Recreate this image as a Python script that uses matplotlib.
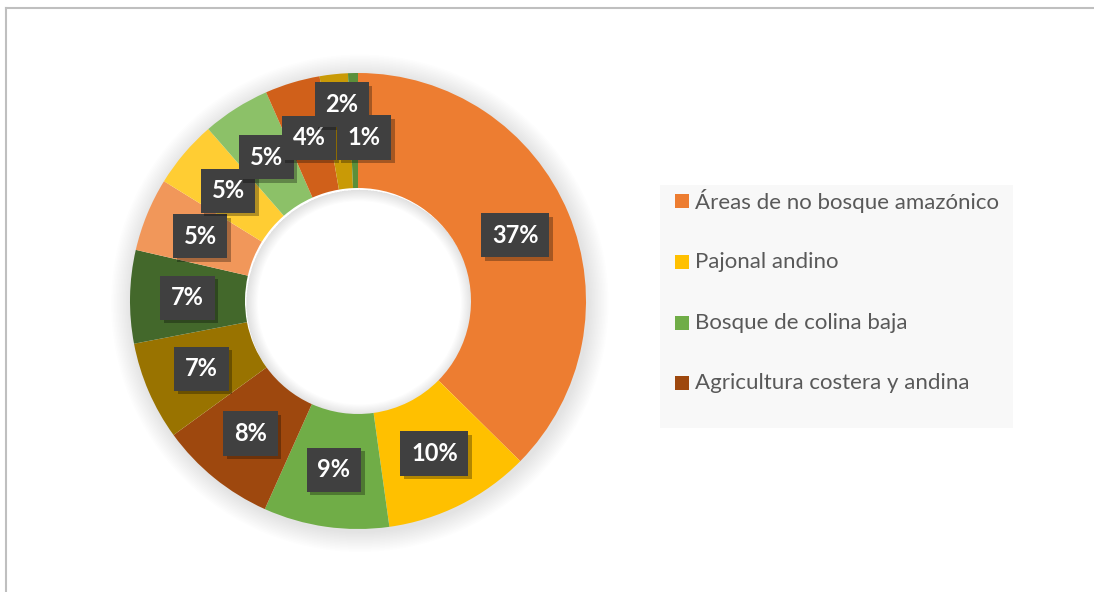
import matplotlib
matplotlib.use("Agg")
import matplotlib.pyplot as plt
import matplotlib.patheffects as pe
from matplotlib.patches import Rectangle, Wedge
from matplotlib.lines import Line2D
import numpy as np

# ---------------- data ----------------
categories = [
    "Áreas de no bosque amazónico",
    "Pajonal andino",
    "Bosque de colina baja",
    "Agricultura costera y andina",
    "Categoría 5",
    "Categoría 6",
    "Categoría 7",
    "Categoría 8",
    "Categoría 9",
    "Categoría 10",
    "Categoría 11",
    "Categoría 12",
]
shares = [37.4, 10.4, 8.9, 8.3, 7.0, 6.6, 5.2, 4.8, 4.8, 3.9, 2.0, 0.7]
legend_count = 4  # legend in the original only shows the first four entries

colors = ["#ED7D31", "#FFC000", "#70AD47", "#9E480E", "#997300", "#43682B",
          "#F1975A", "#FFCD33", "#8CC168", "#D0601A", "#C99A06", "#5B8F3A"]

# label nudges (pixels) for crowded small slices
label_nudge = {10: (2, 27), 11: (10, -7)}

W, H = 1094, 592
DPI = 100
fig = plt.figure(figsize=(W / DPI, H / DPI), dpi=DPI)
fig.patch.set_facecolor("white")

cx, cy = 358, 301        # pixel centre (from top)
R = 228                  # outer radius px
Hh = 285                 # half-size of axes in px
ax = fig.add_axes([(cx - Hh) / W, (H - cy - Hh) / H, 2 * Hh / W, 2 * Hh / H])
lim = Hh / R
ax.set_xlim(-lim, lim)
ax.set_ylim(-lim, lim)
ax.set_aspect("equal")
ax.axis("off")

inner = 113 / R
ring_w = 1 - inner

# soft outer shadow (rings only, outside the donut)
for i in range(14):
    rr = 1.0 + (i + 1) * 0.0065
    ax.add_patch(Wedge((0.008, -0.01), rr, 0, 360, width=rr - 0.98,
                       facecolor="#000000", alpha=0.009, edgecolor="none", zorder=0))

wedges, _ = ax.pie(shares, colors=colors, startangle=90, counterclock=False,
                   radius=1.0, wedgeprops=dict(width=ring_w, edgecolor="none"))
for w in wedges:
    w.set_zorder(2)

# inner hole shading (thin gradient at the inner edge)
for i in range(10):
    ax.add_patch(Wedge((0.006, -0.008), inner, 0, 360, width=(i + 1) * 0.005,
                       facecolor="#000000", alpha=0.012, edgecolor="none", zorder=1))

# data labels
mid_r = (1 + inner) / 2
cum = 0.0
total = sum(shares)
for i, v in enumerate(shares):
    mid = (cum + v / 2) / total
    cum += v
    ang = np.deg2rad(90 - 360 * mid)
    x = mid_r * np.cos(ang)
    y = mid_r * np.sin(ang)
    if i in label_nudge:
        dx, dy = label_nudge[i]
        x += dx / R
        y += dy / R
    t = ax.text(x, y, f"{round(v / total * 100)}%", ha="center", va="center",
                fontsize=17, fontweight="bold", color="white", family="Lato",
                zorder=10,
                bbox=dict(boxstyle="square,pad=0.45", facecolor="#404040",
                          edgecolor="none", linewidth=0.0))
    t.get_bbox_patch().set_path_effects([
        pe.SimplePatchShadow(offset=(2.5, -2.5), shadow_rgbFace="black", alpha=0.3),
        pe.Normal()])

# legend box
lx0, ly0, lx1, ly1 = 660, 185, 1013, 428
fig.patches.append(Rectangle((lx0 / W, 1 - ly1 / H), (lx1 - lx0) / W, (ly1 - ly0) / H,
                             transform=fig.transFigure, facecolor="#F8F8F8",
                             edgecolor="none", zorder=1))
row_y = [201, 262, 323, 383]
for k in range(legend_count):
    yy = row_y[k]
    fig.patches.append(Rectangle((675 / W, 1 - (yy + 7) / H), 14 / W, 14 / H,
                                 transform=fig.transFigure, facecolor=colors[k],
                                 edgecolor="none", zorder=2))
    fig.text(695 / W, 1 - yy / H, categories[k], ha="left", va="center",
             fontsize=16, color="#595959", family="Lato", zorder=3)

# chart-area border (top and left visible)
fig.add_artist(Line2D([6 / W, 1.0], [1 - 7.5 / H, 1 - 7.5 / H], transform=fig.transFigure,
                      color="#BFBFBF", linewidth=1.5))
fig.add_artist(Line2D([6 / W, 6 / W], [0.0, 1 - 7.5 / H], transform=fig.transFigure,
                      color="#BFBFBF", linewidth=1.5))

fig.savefig("out.png", dpi=DPI, facecolor="white")
